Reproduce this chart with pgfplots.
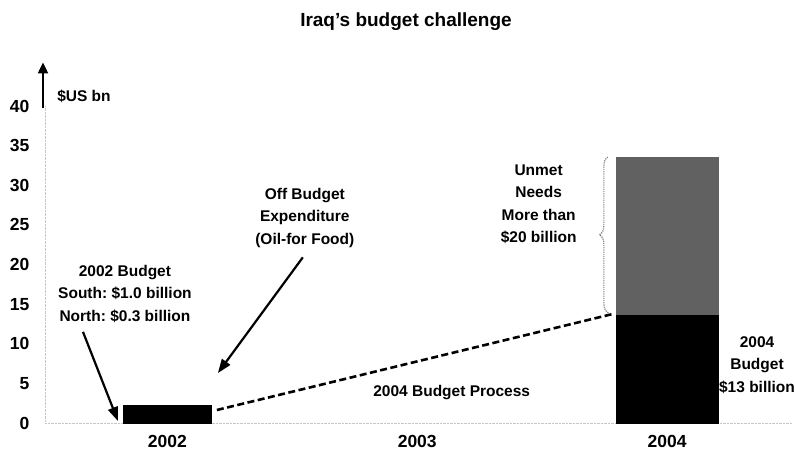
\documentclass[border=0pt]{standalone}
\usepackage{fontspec}
\setmainfont{Liberation Sans}
\usepackage{pgfplots}
\pgfplotsset{compat=1.18}
\usetikzlibrary{arrows.meta,decorations.pathreplacing}
\frenchspacing

\newcommand{\annfont}{\fontsize{15.5}{22.5}\selectfont\bfseries}

\begin{document}
\begin{tikzpicture}
  \useasboundingbox (-45pt,-34pt) rectangle (751pt,423pt);
  \begin{axis}[
    at={(0,0)}, anchor=south west,
    width=747pt, height=317pt, scale only axis,
    xmin=2001.51, xmax=2004.5,
    ymin=0, ymax=40,
    axis x line=bottom, axis y line=left,
    axis line style={gray!45, densely dotted, -},
    tick style={draw=none},
    xtick={2002,2003,2004},
    xticklabels={2002,2003,2004},
    ytick={0,5,...,40},
    /pgf/number format/assume math mode=true,
    ticklabel style={font=\fontsize{17.5}{20}\selectfont\bfseries},
    xticklabel style={yshift=-7pt},
    yticklabel style={xshift=-10pt},
    clip=false,
  ]
    % 2002 budget (South + North, with off budget spending)
    \addplot[ybar, bar shift=0pt, bar width=88pt, fill=black, draw=black]
      coordinates {(2002,2.3)};
    % 2004: unmet needs on top of the budget
    \addplot[ybar, bar shift=0pt, bar width=102pt, fill=black!62, draw=black!62]
      coordinates {(2004,33.5)};
    \addplot[ybar, bar shift=0pt, bar width=102pt, fill=black, draw=black]
      coordinates {(2004,13.6)};

    % y axis arrow and unit
    \draw[line width=2pt, -{Triangle[length=11pt,width=10pt]}]
      (axis cs:2001.502,39.7) -- (axis cs:2001.502,45.5);
    \node[anchor=west, font=\annfont] at (axis cs:2001.545,41.2) {\$US bn};

    % 2002 budget
    \node[align=center, font=\annfont] at (axis cs:2001.83,16.3)
      {2002 Budget\\South: \$1.0 billion\\North: \$0.3 billion};
    \draw[line width=2.2pt, -{Triangle[length=14pt,width=10pt]}]
      (axis cs:2001.662,11.5) -- (axis cs:2001.802,0.25);

    % off budget
    \node[align=center, font=\annfont] at (axis cs:2002.55,25.9)
      {Off Budget\\Expenditure\\(Oil-for Food)};
    \draw[line width=2.2pt, -{Triangle[length=14pt,width=10pt]}]
      (axis cs:2002.542,20.9) -- (axis cs:2002.202,6.3);

    % budget process
    \draw[line width=2.6pt, dash pattern=on 7pt off 3.5pt]
      (axis cs:2002.198,1.64) -- (axis cs:2003.782,13.75);
    \node[font=\annfont] at (axis cs:2003.138,3.8) {2004 Budget Process};

    % unmet needs
    \node[align=center, font=\annfont] at (axis cs:2003.486,27.6)
      {Unmet\\Needs\\More than\\\$20 billion};
    \draw[gray, densely dotted, line width=1.2pt,
          decorate, decoration={brace, amplitude=9pt}]
      (axis cs:2003.765,13.9) -- (axis cs:2003.765,33.6);

    % 2004 budget
    \node[align=center, font=\annfont] at (axis cs:2004.36,7.3)
      {2004\\Budget\\\$13 billion};

    % title
    \node[font=\fontsize{19}{22}\selectfont\bfseries] at (axis cs:2002.955,50.6)
      {Iraq’s budget challenge};
  \end{axis}
\end{tikzpicture}
\end{document}
